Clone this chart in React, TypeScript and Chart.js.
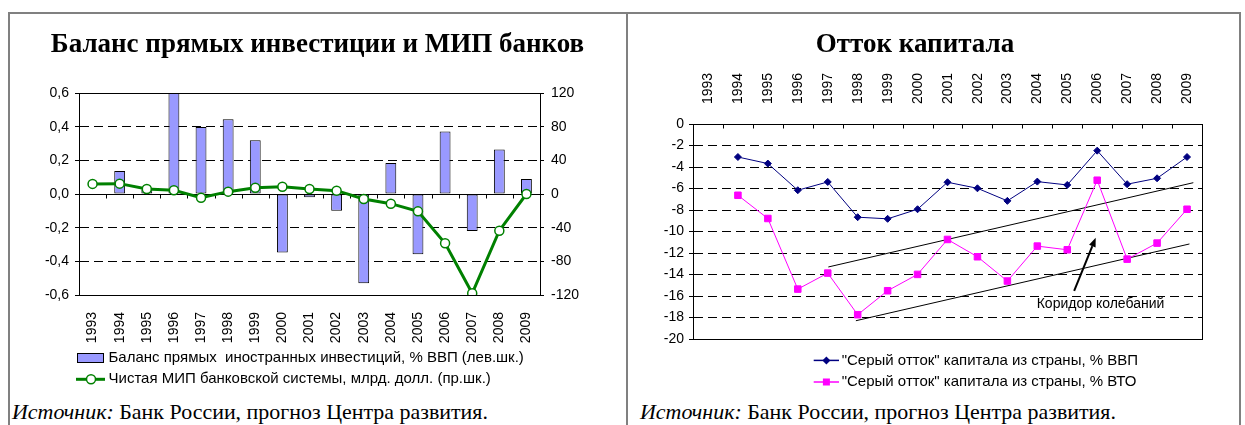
import React, { useEffect, useRef } from 'react';
import { Chart, registerables } from 'chart.js';

Chart.register(...registerables);

// ---------- DATA ----------
const YEARS = ['1993', '1994', '1995', '1996', '1997', '1998', '1999', '2000', '2001', '2002', '2003', '2004', '2005', '2006', '2007', '2008', '2009'];

// Left chart
const FDI_BALANCE: (number | null)[] = [null, 0.137, 0.025, 0.6, 0.398, 0.444, 0.319, -0.347, -0.02, -0.099, -0.53, 0.184, -0.358, 0.372, -0.22, 0.265, 0.089];
const BANK_NIP: number[] = [12, 12.3, 5.9, 4.4, -4.4, 2.8, 7.5, 8.7, 5.9, 4.0, -5.9, -11.5, -20.6, -58.6, -118, -43.6, 0];
const LEFT_AXIS_TICKS = [-0.6, -0.4, -0.2, 0, 0.2, 0.4, 0.6];
const RIGHT_AXIS_TICKS = [-120, -80, -40, 0, 40, 80, 120];

// Right chart
const GREY_OUTFLOW_GDP: (number | null)[] = [null, -3.07, -3.68, -6.16, -5.39, -8.67, -8.82, -7.93, -5.42, -5.98, -7.15, -5.36, -5.67, -2.48, -5.6, -5.05, -3.07];
const GREY_OUTFLOW_TRADE: (number | null)[] = [null, -6.63, -8.79, -15.36, -13.87, -17.74, -15.51, -13.99, -10.74, -12.35, -14.61, -11.36, -11.7, -5.23, -12.57, -11.08, -7.93];
const CORRIDOR_UPPER = [{ x: 4.02, y: -13.3 }, { x: 16.21, y: -5.46 }];
const CORRIDOR_LOWER = [{ x: 4.94, y: -18.3 }, { x: 16.08, y: -11.16 }];
const ARROW_FROM = { x: 12.23, y: -15.53 };
const ARROW_TO = { x: 12.95, y: -10.58 };
const CORRIDOR_LABEL = { x: 13.11, y: -16.74, text: 'Коридор колебаний' };
const OUTFLOW_TICKS = [-20, -18, -16, -14, -12, -10, -8, -6, -4, -2, 0];

// Texts
const LEFT_TITLE = 'Баланс прямых инвестиции и МИП банков';
const RIGHT_TITLE = 'Отток капитала';
const LEFT_SERIES = ['Баланс прямых  иностранных инвестиций, % ВВП (лев.шк.)', 'Чистая МИП банковской системы, млрд. долл. (пр.шк.)'];
const RIGHT_SERIES = ['"Серый отток" капитала из страны, % ВВП', '"Серый отток" капитала из страны, % ВТО'];
const SOURCE_LABEL = 'Источник:';
const SOURCE_TEXT = ' Банк России, прогноз Центра развития.';

// ---------- STYLE ----------
const SANS = '"Liberation Sans", Arial, sans-serif';
const SERIF = '"Liberation Serif", "Times New Roman", serif';
const BAR_FILL = '#9999ff';
const GREEN = '#008000';
const NAVY = '#000080';
const MAGENTA = '#ff00ff';
const GRID_DASH = [9, 5];
const LEGEND_FONT = `15px ${SANS}`;

Chart.defaults.font.family = SANS;
Chart.defaults.font.size = 14;
Chart.defaults.color = '#000';

const fmtComma = (v: number) => {
  const r = Math.round(v * 10) / 10;
  return (Math.abs(r) < 1e-9 ? 0 : r).toFixed(1).replace('.', ',');
};

const isEdgeOrZero = (v: number, min: number, max: number, zero: boolean) =>
  Math.abs(v - min) < 1e-9 || Math.abs(v - max) < 1e-9 || (zero && Math.abs(v) < 1e-9);

const titleOpts = (text: string) => ({
  display: true,
  text,
  color: '#000',
  font: { family: SERIF, size: 27, weight: 'bold' as const },
  padding: { top: 14.8, bottom: 0 },
});

// ---------- PLUGINS ----------
const leftDecor = {
  id: 'leftDecor',
  beforeDatasetsDraw(chart: any) {
    const { ctx, chartArea: a, scales } = chart;
    const n = YEARS.length;
    const w = (a.right - a.left) / n;
    const y0 = Math.round(scales.y.getPixelForValue(0)) + 0.5;
    ctx.save();
    ctx.strokeStyle = '#000';
    ctx.lineWidth = 1;
    ctx.beginPath();
    ctx.moveTo(a.left, y0);
    ctx.lineTo(a.right, y0);
    for (let i = 0; i <= n; i++) {
      const px = Math.round(a.left + i * w) + 0.5;
      ctx.moveTo(px, y0);
      ctx.lineTo(px, y0 + 4);
    }
    ctx.stroke();
    ctx.strokeRect(Math.round(a.left) + 0.5, Math.round(a.top) + 0.5, Math.round(a.right - a.left), Math.round(a.bottom - a.top));
    ctx.restore();
  },
  afterDraw(chart: any) {
    const { ctx, chartArea: a } = chart;
    const x0 = a.left - 2;
    const r1 = a.bottom + 63;
    const r2 = a.bottom + 84.3;
    ctx.save();
    // bar swatch
    ctx.fillStyle = BAR_FILL;
    ctx.fillRect(x0, r1 - 5, 27, 10);
    ctx.strokeStyle = '#000';
    ctx.lineWidth = 1;
    ctx.strokeRect(x0 + 0.5, r1 - 4.5, 26, 9);
    // line marker
    ctx.strokeStyle = GREEN;
    ctx.lineWidth = 3;
    ctx.beginPath();
    ctx.moveTo(x0 - 1, r2);
    ctx.lineTo(x0 + 28, r2);
    ctx.stroke();
    ctx.beginPath();
    ctx.arc(x0 + 14, r2, 4.5, 0, Math.PI * 2);
    ctx.fillStyle = '#fff';
    ctx.fill();
    ctx.lineWidth = 1.5;
    ctx.stroke();
    // text
    ctx.fillStyle = '#000';
    ctx.font = LEGEND_FONT;
    ctx.textBaseline = 'middle';
    ctx.textAlign = 'left';
    ctx.fillText(chart.data.datasets[1].label, x0 + 31.5, r1);
    ctx.fillText(chart.data.datasets[0].label, x0 + 31.5, r2);
    ctx.restore();
  },
};

const rightDecor = {
  id: 'rightDecor',
  beforeDatasetsDraw(chart: any) {
    const { ctx, chartArea: a } = chart;
    const n = YEARS.length;
    const w = (a.right - a.left) / n;
    ctx.save();
    ctx.strokeStyle = '#000';
    ctx.lineWidth = 1;
    ctx.beginPath();
    for (let i = 0; i <= n; i++) {
      const px = Math.round(a.left + i * w) + 0.5;
      ctx.moveTo(px, a.top);
      ctx.lineTo(px, a.top + 4.5);
    }
    ctx.stroke();
    ctx.strokeRect(Math.round(a.left) + 0.5, Math.round(a.top) + 0.5, Math.round(a.right - a.left), Math.round(a.bottom - a.top));
    ctx.restore();
  },
  afterDatasetsDraw(chart: any) {
    const { ctx, scales } = chart;
    const xs = scales.xTrend;
    const ys = scales.y;
    const x1 = xs.getPixelForValue(ARROW_FROM.x), y1 = ys.getPixelForValue(ARROW_FROM.y);
    const x2 = xs.getPixelForValue(ARROW_TO.x), y2 = ys.getPixelForValue(ARROW_TO.y);
    const ang = Math.atan2(y2 - y1, x2 - x1);
    const head = 9, half = 3.5;
    const bx = x2 - head * Math.cos(ang), by = y2 - head * Math.sin(ang);
    ctx.save();
    ctx.strokeStyle = '#000';
    ctx.fillStyle = '#000';
    ctx.lineWidth = 2;
    ctx.beginPath();
    ctx.moveTo(x1, y1);
    ctx.lineTo(bx, by);
    ctx.stroke();
    ctx.beginPath();
    ctx.moveTo(x2, y2);
    ctx.lineTo(bx + half * Math.sin(ang), by - half * Math.cos(ang));
    ctx.lineTo(bx - half * Math.sin(ang), by + half * Math.cos(ang));
    ctx.closePath();
    ctx.fill();
    ctx.font = `14px ${SANS}`;
    ctx.textAlign = 'center';
    ctx.textBaseline = 'middle';
    ctx.fillText(CORRIDOR_LABEL.text, xs.getPixelForValue(CORRIDOR_LABEL.x), ys.getPixelForValue(CORRIDOR_LABEL.y));
    ctx.restore();
  },
  afterDraw(chart: any) {
    const { ctx, chartArea: a } = chart;
    const x0 = a.left + 120.7;
    const rows = [a.bottom + 21.4, a.bottom + 43];
    const colors = [NAVY, MAGENTA];
    ctx.save();
    rows.forEach((ry, i) => {
      ctx.strokeStyle = colors[i];
      ctx.fillStyle = colors[i];
      ctx.lineWidth = 1.5;
      ctx.beginPath();
      ctx.moveTo(x0, ry);
      ctx.lineTo(x0 + 25.3, ry);
      ctx.stroke();
      const cx = x0 + 12.7;
      if (i === 0) {
        ctx.beginPath();
        ctx.moveTo(cx, ry - 4);
        ctx.lineTo(cx + 4, ry);
        ctx.lineTo(cx, ry + 4);
        ctx.lineTo(cx - 4, ry);
        ctx.closePath();
        ctx.fill();
      } else {
        ctx.fillRect(cx - 3.5, ry - 3.5, 7, 7);
      }
      ctx.fillStyle = '#000';
      ctx.font = LEGEND_FONT;
      ctx.textBaseline = 'middle';
      ctx.textAlign = 'left';
      ctx.fillText(chart.data.datasets[i].label, x0 + 28, ry);
    });
    ctx.restore();
  },
};

// ---------- CONFIGS ----------
function leftConfig(): any {
  return {
    type: 'bar',
    data: {
      labels: YEARS,
      datasets: [
        {
          type: 'line',
          label: LEFT_SERIES[1],
          data: BANK_NIP,
          yAxisID: 'y1',
          order: 1,
          borderColor: GREEN,
          borderWidth: 3,
          tension: 0,
          pointRadius: 4.5,
          pointBackgroundColor: '#fff',
          pointBorderColor: GREEN,
          pointBorderWidth: 1.5,
        },
        {
          type: 'bar',
          label: LEFT_SERIES[0],
          data: FDI_BALANCE,
          yAxisID: 'y',
          order: 2,
          backgroundColor: BAR_FILL,
          borderColor: '#000',
          borderWidth: 1,
          borderSkipped: false,
          barPercentage: 1,
          categoryPercentage: 0.4,
        },
      ],
    },
    options: {
      responsive: false,
      animation: false,
      layout: { padding: 0 },
      plugins: {
        legend: { display: false },
        tooltip: { enabled: false },
        title: { ...titleOpts(LEFT_TITLE), padding: { top: 14.8, bottom: 31.8 } },
      },
      scales: {
        x: {
          type: 'category',
          offset: true,
          grid: { display: false },
          border: { display: false },
          ticks: { autoSkip: false, minRotation: 90, maxRotation: 90, padding: 9, color: '#000' },
          afterFit: (s: any) => { s.height = 99; },
        },
        y: {
          position: 'left',
          min: -0.6,
          max: 0.6,
          afterBuildTicks: (s: any) => { s.ticks = LEFT_AXIS_TICKS.map((v) => ({ value: v })); },
          ticks: { padding: 6, color: '#000', callback: (v: any) => fmtComma(Number(v)) },
          grid: {
            color: (c: any) => (c.tick && isEdgeOrZero(c.tick.value, -0.6, 0.6, true) ? 'rgba(0,0,0,0)' : '#000'),
            tickColor: '#000',
            tickLength: 4,
            lineWidth: 1,
          },
          border: { display: true, color: '#000', dash: GRID_DASH },
          afterFit: (s: any) => { s.width = 69; },
        },
        y1: {
          position: 'right',
          min: -120,
          max: 120,
          afterBuildTicks: (s: any) => { s.ticks = RIGHT_AXIS_TICKS.map((v) => ({ value: v })); },
          ticks: { padding: 7, color: '#000' },
          grid: { drawOnChartArea: false, tickColor: '#000', tickLength: 4 },
          border: { display: true, color: '#000' },
          afterFit: (s: any) => { s.width = 85; },
        },
      },
    },
    plugins: [leftDecor],
  };
}

function rightConfig(): any {
  return {
    type: 'line',
    data: {
      labels: YEARS,
      datasets: [
        {
          label: RIGHT_SERIES[0],
          data: GREY_OUTFLOW_GDP,
          borderColor: NAVY,
          borderWidth: 1,
          tension: 0,
          pointStyle: 'rectRot',
          pointRadius: 3.5,
          pointBackgroundColor: NAVY,
          pointBorderColor: NAVY,
          pointBorderWidth: 1,
        },
        {
          label: RIGHT_SERIES[1],
          data: GREY_OUTFLOW_TRADE,
          borderColor: MAGENTA,
          borderWidth: 1,
          tension: 0,
          pointStyle: 'rect',
          pointRadius: 4.6,
          pointBackgroundColor: MAGENTA,
          pointBorderColor: MAGENTA,
          pointBorderWidth: 1,
        },
        {
          label: 'upper',
          data: CORRIDOR_UPPER,
          xAxisID: 'xTrend',
          borderColor: '#000',
          borderWidth: 1,
          pointRadius: 0,
        },
        {
          label: 'lower',
          data: CORRIDOR_LOWER,
          xAxisID: 'xTrend',
          borderColor: '#000',
          borderWidth: 1,
          pointRadius: 0,
        },
      ],
    },
    options: {
      responsive: false,
      animation: false,
      layout: { padding: { left: 0, top: 0, right: 38, bottom: 55 } },
      plugins: {
        legend: { display: false },
        tooltip: { enabled: false },
        title: { ...titleOpts(RIGHT_TITLE), padding: { top: 14.8, bottom: 5 } },
      },
      scales: {
        x: {
          type: 'category',
          position: 'top',
          offset: true,
          grid: { display: false },
          border: { display: false },
          ticks: { autoSkip: false, minRotation: 90, maxRotation: 90, padding: 12, labelOffset: 17, color: '#000' },
          afterFit: (s: any) => { s.height = 57.8; },
        },
        xTrend: {
          type: 'linear',
          display: false,
          min: -0.5,
          max: 16.5,
        },
        y: {
          position: 'left',
          min: -20,
          max: 0,
          afterBuildTicks: (s: any) => { s.ticks = OUTFLOW_TICKS.map((v) => ({ value: v })); },
          ticks: { padding: 5, color: '#000' },
          grid: {
            color: (c: any) => (c.tick && isEdgeOrZero(c.tick.value, -20, 0, false) ? 'rgba(0,0,0,0)' : '#000'),
            tickColor: '#000',
            tickLength: 4,
            lineWidth: 1,
          },
          border: { display: true, color: '#000', dash: GRID_DASH },
          afterFit: (s: any) => { s.width = 65; },
        },
      },
    },
    plugins: [rightDecor],
  };
}

const sourceStyle: React.CSSProperties = {
  position: 'absolute',
  top: 402.4,
  font: `21px ${SERIF}`,
  lineHeight: '21px',
  whiteSpace: 'nowrap',
  color: '#000',
  transform: 'scaleX(1.045)',
  transformOrigin: 'left center',
};

export default function App() {
  const leftRef = useRef<HTMLCanvasElement>(null);
  const rightRef = useRef<HTMLCanvasElement>(null);

  useEffect(() => {
    const c1 = new Chart(leftRef.current as HTMLCanvasElement, leftConfig());
    const c2 = new Chart(rightRef.current as HTMLCanvasElement, rightConfig());
    return () => {
      c1.destroy();
      c2.destroy();
    };
  }, []);

  return (
    <div style={{ position: 'absolute', left: 0, top: 0, width: 1245, height: 425, overflow: 'hidden', background: '#fff' }}>
      <div style={{ position: 'absolute', left: 8, top: 12, width: 1229, height: 440, border: '2px solid #808080' }} />
      <div style={{ position: 'absolute', left: 626, top: 12, width: 2, height: 413, background: '#808080' }} />
      <canvas ref={leftRef} width={615} height={380} style={{ position: 'absolute', left: 10, top: 14, width: 615, height: 380 }} />
      <canvas ref={rightRef} width={612} height={380} style={{ position: 'absolute', left: 628, top: 14, width: 612, height: 380 }} />
      <div style={{ ...sourceStyle, left: 12 }}>
        <i>{SOURCE_LABEL}</i>
        {SOURCE_TEXT}
      </div>
      <div style={{ ...sourceStyle, left: 640 }}>
        <i>{SOURCE_LABEL}</i>
        {SOURCE_TEXT}
      </div>
    </div>
  );
}
